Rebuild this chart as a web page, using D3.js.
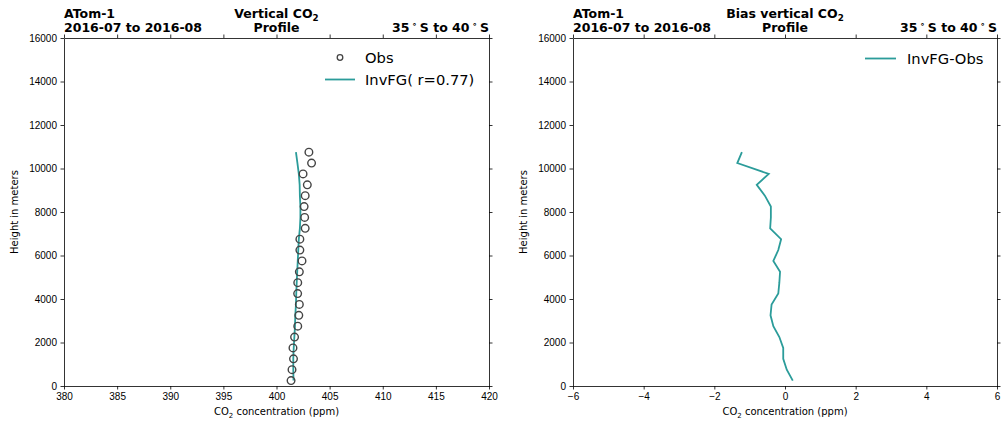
<!DOCTYPE html>
<html>
<head>
<meta charset="utf-8">
<script src="https://cdn.jsdelivr.net/npm/d3@7"></script>
<style>
  body { margin: 0; background: #fff; }
  svg { font-family: "DejaVu Sans", sans-serif; }
  .axis text { font-size: 10px; fill: #000; }
  .axis path, .axis line { stroke: #000; stroke-width: 0.8; }
</style>
</head>
<body>
<div id="chart"></div>
<script>
// heights of the profile levels (m)
var levels = [250, 750, 1250, 1750, 2250, 2750, 3250, 3750, 4250, 4750, 5250,
              5750, 6250, 6750, 7250, 7750, 8250, 8750, 9250, 9750, 10250, 10750];
// observed CO2 (ppm)
var obs = [401.37, 401.46, 401.60, 401.55, 401.70, 402.00, 402.10, 402.15, 401.99, 402.00, 402.15,
           402.40, 402.20, 402.20, 402.70, 402.65, 402.60, 402.70, 402.90, 402.50, 403.30, 403.05];
// model first guess CO2 (ppm)
var invfg = [401.60, 401.58, 401.58, 401.62, 401.68, 401.74, 401.77, 401.83, 401.86, 401.90, 401.95,
             402.00, 402.05, 402.10, 402.20, 402.25, 402.25, 402.20, 402.18, 402.10, 401.97, 401.83];
// InvFG - Obs (ppm)
var bias = [0.22, 0.05, -0.05, -0.05, -0.16, -0.33, -0.41, -0.38, -0.19, -0.16, -0.14,
            -0.33, -0.19, -0.11, -0.42, -0.40, -0.40, -0.57, -0.80, -0.46, -1.35, -1.22];

var xTicksLeft = [380, 385, 390, 395, 400, 405, 410, 415, 420];
var xTicksRight = [-6, -4, -2, 0, 2, 4, 6];
var yTicks = [0, 2000, 4000, 6000, 8000, 10000, 12000, 14000, 16000];

var lineColor = '#2b9c9a';
var legendSize = 14.7;

var svg = d3.select('#chart').append('svg')
  .attr('width', 1001)
  .attr('height', 423);

var plotTop = 38, plotBottom = 386;

var y = d3.scaleLinear().domain([0, 16000]).range([plotBottom, plotTop]);

// subscripted "CO2" inside a text element
function co2(sel, before, after, size) {
  sel.append('tspan').text(before + 'CO');
  sel.append('tspan').text('2').attr('font-size', size * 0.7).attr('dy', size * 0.25);
  sel.append('tspan').text(after).attr('dy', -size * 0.25);
}

function panel(x0, x1, xDomain, xTicks, title) {
  var x = d3.scaleLinear().domain(xDomain).range([x0, x1]);
  var g = svg.append('g');

  var fmt = function(d) { return d < 0 ? '\u2212' + Math.abs(d) : d; };

  g.append('g').attr('class', 'axis')
    .attr('transform', 'translate(0,' + plotBottom + ')')
    .call(d3.axisBottom(x).tickValues(xTicks).tickSize(3.5).tickSizeOuter(0).tickPadding(3.5).tickFormat(fmt));
  g.append('g').attr('class', 'axis')
    .attr('transform', 'translate(0,' + plotTop + ')')
    .call(d3.axisTop(x).tickValues(xTicks).tickSize(3.5).tickSizeOuter(0).tickFormat(''));
  g.append('g').attr('class', 'axis')
    .attr('transform', 'translate(' + x0 + ',0)')
    .call(d3.axisLeft(y).tickValues(yTicks).tickSize(3.5).tickSizeOuter(0).tickPadding(3.5).tickFormat(d3.format('d')));
  g.append('g').attr('class', 'axis')
    .attr('transform', 'translate(' + x1 + ',0)')
    .call(d3.axisRight(y).tickValues(yTicks).tickSize(3.5).tickSizeOuter(0).tickFormat(''));
  g.selectAll('.axis .tick text').attr('fill', '#000');

  // x label
  var xl = g.append('text')
    .attr('x', (x0 + x1) / 2).attr('y', 415)
    .attr('text-anchor', 'middle').attr('font-size', 10);
  co2(xl, '', ' concentration (ppm)', 10);

  // y label
  g.append('text')
    .attr('transform', 'translate(' + (x0 - 46) + ',' + ((plotTop + plotBottom) / 2) + ') rotate(-90)')
    .attr('text-anchor', 'middle').attr('font-size', 10)
    .text('Height in meters');

  // titles
  var tfs = 12.5;
  g.append('text').attr('x', x0).attr('y', 17.5)
    .attr('font-size', tfs).attr('font-weight', 'bold').text('ATom-1');
  g.append('text').attr('x', x0).attr('y', 31.5)
    .attr('font-size', tfs).attr('font-weight', 'bold').text('2016-07 to 2016-08');
  var ct = g.append('text').attr('x', (x0 + x1) / 2).attr('y', 17.5)
    .attr('text-anchor', 'middle').attr('font-size', tfs).attr('font-weight', 'bold');
  co2(ct, title, '', tfs);
  g.append('text').attr('x', (x0 + x1) / 2).attr('y', 31.5)
    .attr('text-anchor', 'middle').attr('font-size', tfs).attr('font-weight', 'bold').text('Profile');
  var rt = g.append('text').attr('x', x1).attr('y', 31.5)
    .attr('text-anchor', 'end').attr('font-size', tfs).attr('font-weight', 'bold');
  rt.append('tspan').text('35\u2009');
  rt.append('tspan').text('\u2218').attr('font-size', tfs * 0.7).attr('dy', -tfs * 0.35);
  rt.append('tspan').text('\u2009S to 40\u2009').attr('dy', tfs * 0.35);
  rt.append('tspan').text('\u2218').attr('font-size', tfs * 0.7).attr('dy', -tfs * 0.35);
  rt.append('tspan').text('\u2009S').attr('dy', tfs * 0.35);

  return { g: g, x: x };
}

// left panel: profile
var p1 = panel(64, 489, [380, 420], xTicksLeft, 'Vertical ');

var line1 = d3.line()
  .x(function(d, i) { return p1.x(invfg[i]); })
  .y(function(d) { return y(d); });

p1.g.append('path')
  .attr('d', line1(levels))
  .attr('fill', 'none')
  .attr('stroke', lineColor)
  .attr('stroke-width', 1.8);

p1.g.selectAll('circle.obs')
  .data(levels)
  .enter().append('circle')
  .attr('class', 'obs')
  .attr('cx', function(d, i) { return p1.x(obs[i]); })
  .attr('cy', function(d) { return y(d); })
  .attr('r', 3.8)
  .attr('fill', 'none')
  .attr('stroke', '#444')
  .attr('stroke-width', 1.4);

// legend left
p1.g.append('circle').attr('cx', 340).attr('cy', 57.5).attr('r', 2.8)
  .attr('fill', 'none').attr('stroke', '#444').attr('stroke-width', 1.3);
p1.g.append('text').attr('x', 365).attr('y', 62.8).attr('font-size', legendSize).text('Obs');
p1.g.append('line').attr('x1', 325).attr('x2', 355).attr('y1', 79.5).attr('y2', 79.5)
  .attr('stroke', lineColor).attr('stroke-width', 1.8);
p1.g.append('text').attr('x', 365).attr('y', 84.8).attr('font-size', legendSize).text('InvFG( r=0.77)');

// right panel: bias
var p2 = panel(573, 997, [-6, 6], xTicksRight, 'Bias vertical ');

var line2 = d3.line()
  .x(function(d, i) { return p2.x(bias[i]); })
  .y(function(d) { return y(d); });

p2.g.append('path')
  .attr('d', line2(levels))
  .attr('fill', 'none')
  .attr('stroke', lineColor)
  .attr('stroke-width', 1.8);

p2.g.append('line').attr('x1', 865).attr('x2', 896).attr('y1', 58.5).attr('y2', 58.5)
  .attr('stroke', lineColor).attr('stroke-width', 1.8);
p2.g.append('text').attr('x', 907).attr('y', 63.8).attr('font-size', legendSize).text('InvFG-Obs');
</script>
</body>
</html>
